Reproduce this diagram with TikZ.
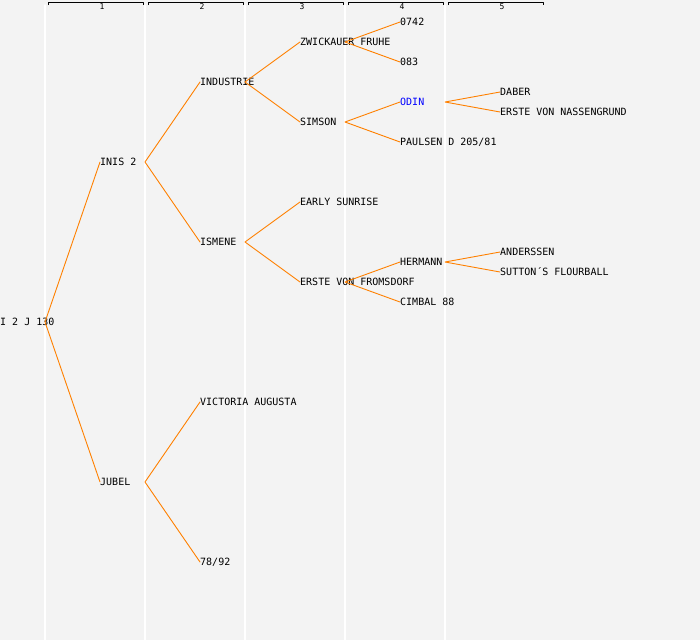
\documentclass[tikz,border=0pt]{standalone}
\usepackage{fontspec}
\setmonofont{DejaVu Sans Mono}
\definecolor{bgrey}{HTML}{F3F3F3}
\definecolor{branch}{HTML}{FF8000}
\definecolor{odinblue}{HTML}{0000FF}
\tikzset{
  plant/.style={anchor=west,inner sep=0pt,text height=7.3pt,text depth=0pt,
    font=\ttfamily\fontsize{10}{10}\selectfont},
  link/.style={draw=branch,line width=0.9pt},
  gen/.style={font=\ttfamily\fontsize{8}{8}\selectfont,inner sep=0pt}
}
\begin{document}
\begin{tikzpicture}[x=1pt,y=-1pt,line cap=round,line join=round]
  \fill[bgrey] (0,0) rectangle (700,640);
  \useasboundingbox (0,0) rectangle (700,640);
  % generation columns
  \foreach \k in {1,...,5}{
    \coordinate (c\k) at (100*\k-55,0);
    \draw[white,line width=1.5pt] (100*\k-55,5) -- (100*\k-55,640);
    \draw[line width=0.75pt,line cap=butt] (100*\k-52,5) -- (100*\k-52,2) -- (100*\k+43,2) -- (100*\k+43,5);
    \node[gen] at (100*\k+2,6.5) {\k};
  }
  % plants
  \node[plant] (root) at (0,322) {I 2 J 130};
  \node[plant] (inis) at (100,162) {INIS 2};
  \node[plant] (jubel) at (100,482) {JUBEL};
  \node[plant] (industrie) at (200,82) {INDUSTRIE};
  \node[plant] (ismene) at (200,242) {ISMENE};
  \node[plant] (victoria) at (200,402) {VICTORIA AUGUSTA};
  \node[plant] (n7892) at (200,562) {78/92};
  \node[plant] (zwickauer) at (300,42) {ZWICKAUER FRUHE};
  \node[plant] (simson) at (300,122) {SIMSON};
  \node[plant] (early) at (300,202) {EARLY SUNRISE};
  \node[plant] (fromsdorf) at (300,282) {ERSTE VON FROMSDORF};
  \node[plant] (n0742) at (400,22) {0742};
  \node[plant] (n083) at (400,62) {083};
  \node[plant,text=odinblue] (odin) at (400,102) {ODIN};
  \node[plant] (paulsen) at (400,142) {PAULSEN D 205/81};
  \node[plant] (hermann) at (400,262) {HERMANN};
  \node[plant] (cimbal) at (400,302) {CIMBAL 88};
  \node[plant] (daber) at (500,92) {DABER};
  \node[plant] (nassengrund) at (500,112) {ERSTE VON NASSENGRUND};
  \node[plant] (anderssen) at (500,252) {ANDERSSEN};
  \node[plant] (sutton) at (500,272) {SUTTON´S FLOURBALL};
  % branches
  \draw[link] (inis.west) -- (c1 |- root.west) -- (jubel.west);
  \draw[link] (industrie.west) -- (c2 |- inis.west) -- (ismene.west);
  \draw[link] (victoria.west) -- (c2 |- jubel.west) -- (n7892.west);
  \draw[link] (zwickauer.west) -- (c3 |- industrie.west) -- (simson.west);
  \draw[link] (early.west) -- (c3 |- ismene.west) -- (fromsdorf.west);
  \draw[link] (n0742.west) -- (c4 |- zwickauer.west) -- (n083.west);
  \draw[link] (odin.west) -- (c4 |- simson.west) -- (paulsen.west);
  \draw[link] (hermann.west) -- (c4 |- fromsdorf.west) -- (cimbal.west);
  \draw[link] (daber.west) -- (c5 |- odin.west) -- (nassengrund.west);
  \draw[link] (anderssen.west) -- (c5 |- hermann.west) -- (sutton.west);
\end{tikzpicture}
\end{document}
